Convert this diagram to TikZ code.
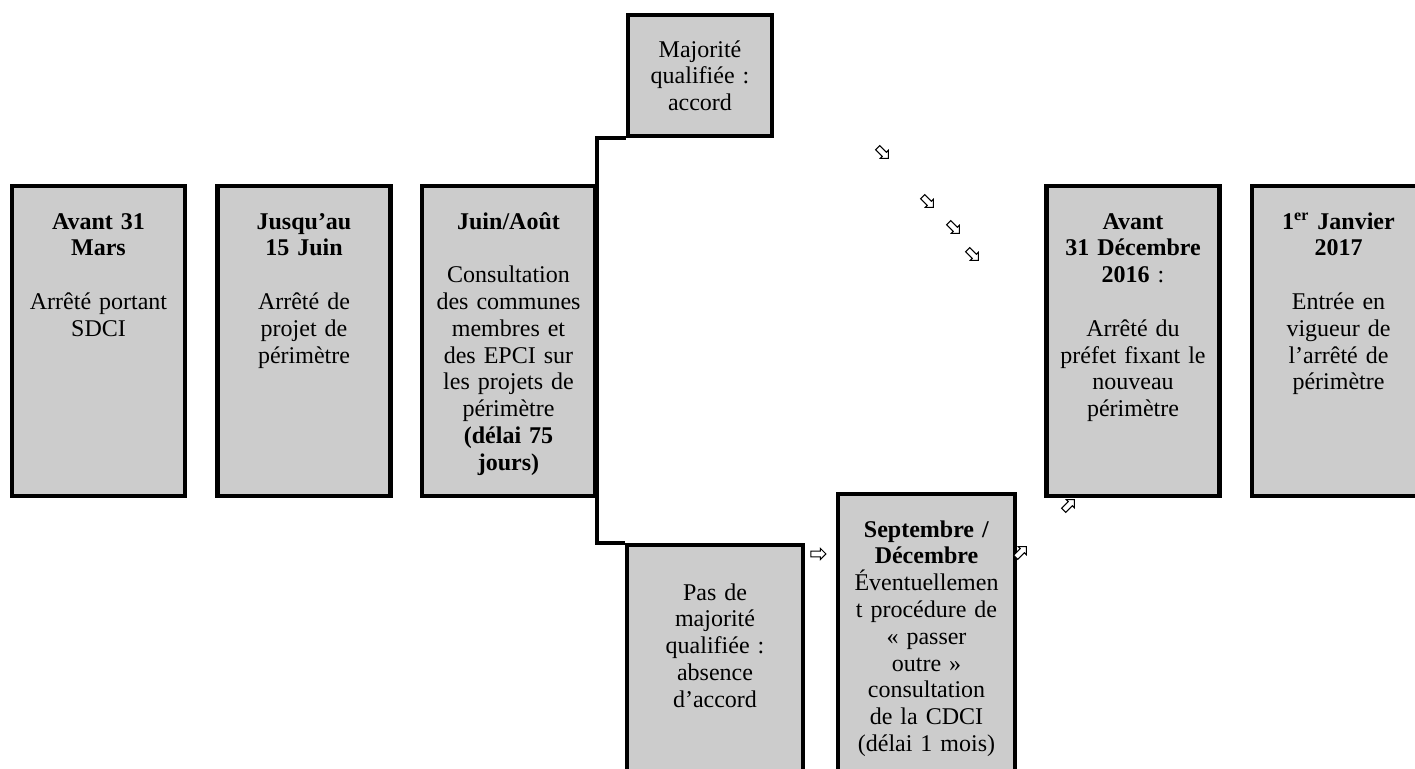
\documentclass[tikz,border=0pt]{standalone}
\usepackage{fontspec}
\setmainfont{Liberation Serif}
\usepackage{tikz}
\usetikzlibrary{shapes.arrows,positioning}
\setlength{\lineskiplimit}{-5pt}

\begin{document}
\begin{tikzpicture}[
    x=0.5pt, y=-0.5pt,
    stage/.style={draw, line width=2.2pt, fill=black!20, inner sep=0pt, anchor=north, align=center,
        text width=86.5pt, text height=21.5pt, text depth=133.5pt, font=\fontsize{12}{13.4}\selectfont},
    link/.style={line width=2pt},
    hint/.style={single arrow, draw, fill=white, line width=0.5pt, inner sep=1.2pt,
        minimum height=7.5pt, single arrow head extend=1.4pt}
]
\useasboundingbox (0,0) rectangle (1415,769);
\clip (0,0) rectangle (1415,769);

% main line of dates
\node[stage] (avant) at (98.5,184) {\textbf{Avant 31}\\\textbf{Mars}\\[13.4pt]Arrêté portant\\SDCI};
\node[stage] (juin15) at (304,184) {\textbf{Jusqu’au}\\\textbf{15 Juin}\\[13.4pt]Arrêté de\\projet de\\périmètre};
\node[stage] (consult) at (508.5,184) {\textbf{Juin/Août}\\[13.4pt]Consultation\\des communes\\membres et\\des EPCI sur\\les projets de\\périmètre\\\textbf{(délai 75}\\\textbf{jours)}};
\node[stage] (arrete) at (1133,184) {\textbf{Avant}\\\textbf{31 Décembre}\\\textbf{2016} :\\[13.4pt]Arrêté du\\préfet fixant le\\nouveau\\périmètre};
\node[stage] (vigueur) at (1338.5,184) {\textbf{1\textsuperscript{er} Janvier}\\\textbf{2017}\\[13.4pt]Entrée en\\vigueur de\\l’arrêté de\\périmètre};

% the two outcomes
\node[stage, text width=72pt, text height=21pt, text depth=39.5pt] (accord) at (700,13) {Majorité\\qualifiée :\\accord};
\node[stage, text width=88pt, text height=27.5pt, text depth=130pt] (noaccord) at (715,543) {Pas de\\majorité\\qualifiée :\\absence\\d’accord};
\node[stage, text width=88.5pt, text depth=150pt] (passer) at (926.5,492) {\textbf{Septembre /}\\\textbf{Décembre}\\Éventuellemen\\t procédure de\\« passer\\outre »\\consultation\\de la CDCI\\(délai 1 mois)};

\draw[link] (accord.south west) -- (accord.south west -| consult.east) -- (noaccord.north west -| consult.east) -- (noaccord.north west);

% small arrows
\node[hint, rotate=-45] (se1) at (882,152) {};
\node[hint, rotate=-45] (se2) at (927,201) {};
\node[hint, rotate=-45] (se3) at (953,227) {};
\node[hint, rotate=-45] (se4) at (972,254) {};
\node[hint] (topasser) at (817,554) {};
\node[hint, rotate=45] (ne1) at (1020,553) {};
\node[hint, rotate=45] (ne2) at (1068,506) {};
\end{tikzpicture}
\end{document}
